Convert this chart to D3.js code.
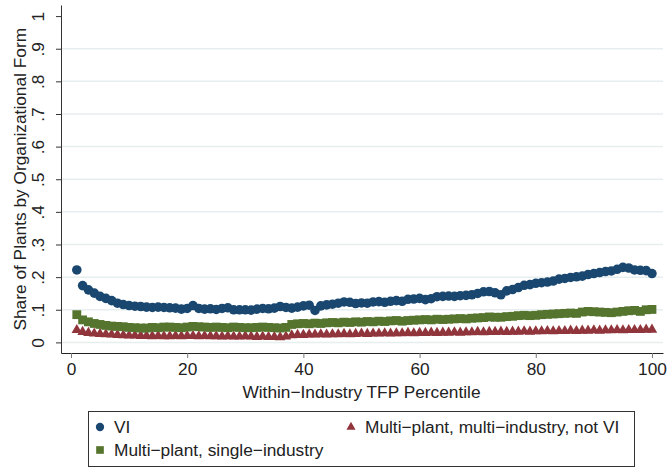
<!DOCTYPE html>
<html><head><meta charset="utf-8">
<script src="https://cdn.jsdelivr.net/npm/d3@7"></script>
<style>body{margin:0;background:#fff}svg{display:block}text{font-family:"Liberation Sans",Arial,sans-serif}</style>
</head><body>
<svg id="c" width="667" height="469"></svg>
<script>
const percentiles = d3.range(1, 101);
const viShare = [
.222,.174,.161,.151,.141,.135,.128,.120,.116,.113,
.111,.110,.108,.107,.108,.107,.106,.105,.102,.104,
.113,.104,.102,.103,.101,.104,.106,.100,.100,.100,
.099,.102,.104,.103,.105,.110,.107,.105,.108,.112,
.114,.098,.112,.115,.117,.120,.124,.123,.119,.121,
.120,.124,.125,.123,.126,.128,.126,.132,.133,.135,
.131,.134,.140,.141,.142,.141,.143,.144,.146,.150,
.155,.156,.152,.146,.158,.162,.168,.175,.177,.181,
.183,.185,.188,.194,.196,.199,.201,.203,.208,.211,
.214,.217,.219,.224,.230,.228,.222,.221,.220,.211];
const singleIndShare = [
.085,.069,.063,.058,.055,.052,.050,.049,.048,.046,
.045,.044,.044,.046,.045,.047,.047,.046,.045,.047,
.049,.048,.047,.046,.047,.046,.045,.047,.046,.045,
.045,.046,.047,.046,.045,.044,.046,.055,.057,.058,
.057,.059,.058,.060,.061,.060,.062,.061,.063,.062,
.064,.063,.065,.064,.066,.067,.065,.067,.068,.069,
.070,.069,.071,.070,.071,.072,.073,.072,.074,.075,
.076,.078,.077,.077,.079,.080,.082,.083,.082,.083,
.085,.086,.087,.088,.089,.090,.089,.093,.095,.094,
.093,.092,.091,.093,.095,.097,.098,.095,.100,.101];
const multiIndShare = [
.038,.032,.029,.027,.026,.025,.024,.023,.022,.021,
.021,.020,.020,.019,.020,.019,.019,.020,.019,.020,
.020,.019,.020,.019,.019,.018,.019,.018,.018,.019,
.018,.017,.018,.017,.017,.016,.018,.022,.023,.023,
.024,.024,.025,.024,.025,.025,.026,.025,.026,.027,
.026,.027,.027,.028,.027,.028,.028,.029,.028,.029,
.029,.030,.029,.030,.030,.031,.030,.031,.031,.032,
.031,.032,.032,.033,.032,.033,.033,.034,.033,.034,
.034,.035,.034,.035,.035,.036,.035,.036,.036,.037,
.036,.037,.037,.038,.037,.038,.038,.038,.039,.039];
const yTicks = [0,.1,.2,.3,.4,.5,.6,.7,.8,.9,1];
const yTickLabels = ["0",".1",".2",".3",".4",".5",".6",".7",".8",".9","1"];
const xTicks = [0,20,40,60,80,100];
const seriesNames = ["VI","Multi\u2212plant, multi\u2212industry, not VI","Multi\u2212plant, single\u2212industry"];

const svg = d3.select("#c");
const x = d3.scaleLinear().domain([-1.72, 101.9]).range([61, 663]);
const y = d3.scaleLinear().domain([-0.0325, 1.034]).range([353, 5]);
const FS = 17.3;

// gridlines
svg.append("g").selectAll("line").data(yTicks.filter(d => d < 1)).join("line")
  .attr("x1", 61).attr("x2", 663)
  .attr("y1", d => y(d)).attr("y2", d => y(d))
  .attr("stroke", "#e6eef0").attr("stroke-width", 1.5);

// series
const series = [
  {vals: viShare, color: "#1a476f", sym: d3.symbolCircle, size: 72},
  {vals: multiIndShare, color: "#90353b", sym: d3.symbolTriangle, size: 48},
  {vals: singleIndShare, color: "#55752f", sym: d3.symbolSquare, size: 78}
];
series.forEach(s => {
  svg.append("g").selectAll("path").data(percentiles).join("path")
    .attr("d", d3.symbol(s.sym, s.size))
    .attr("transform", (p, i) => `translate(${x(p)},${y(s.vals[i])})`)
    .attr("fill", s.color);
});

// y axis
const yAx = svg.append("g").attr("transform", "translate(61,0)")
  .call(d3.axisLeft(y).tickValues(yTicks).tickFormat((d, i) => yTickLabels[i]).tickSize(5).tickSizeOuter(0));
yAx.select(".domain").attr("stroke", "#333");
yAx.selectAll(".tick line").attr("stroke", "#333");
yAx.selectAll(".tick text").attr("x", null).attr("dy", null)
  .attr("transform", "translate(-17,0) rotate(-90)")
  .attr("text-anchor", "middle").attr("font-size", FS).attr("fill", "#222")
  .attr("font-family", "Liberation Sans, Arial, sans-serif");

// x axis
const xAx = svg.append("g").attr("transform", "translate(0,353)")
  .call(d3.axisBottom(x).tickValues(xTicks).tickSize(5).tickSizeOuter(0));
xAx.select(".domain").attr("stroke", "#222");
xAx.selectAll(".tick line").attr("stroke", "#777");
xAx.selectAll(".tick text").attr("y", 22).attr("dy", null)
  .attr("font-size", FS).attr("fill", "#222")
  .attr("font-family", "Liberation Sans, Arial, sans-serif");

// axis titles
svg.append("text").attr("x", x(50)).attr("y", 398).attr("text-anchor", "middle")
  .attr("font-size", FS).attr("fill", "#222").text("Within\u2212Industry TFP Percentile");
svg.append("text").attr("transform", `translate(25.5,${y(0.5)}) rotate(-90)`)
  .attr("text-anchor", "middle").attr("font-size", FS).attr("fill", "#222")
  .text("Share of Plants by Organizational Form");

// legend
const lg = svg.append("g");
lg.append("rect").attr("x", 88.5).attr("y", 411.5).attr("width", 546).attr("height", 55)
  .attr("fill", "#fff").attr("stroke", "#333");
const legendPos = [[100, 427], [351, 427], [100, 450]];
const legendOrder = [0, 1, 2];
legendOrder.forEach((k, i) => {
  const s = series[k];
  const [lx, ly] = legendPos[i];
  lg.append("path").attr("d", d3.symbol(s.sym, s.size * 0.75))
    .attr("transform", `translate(${lx},${ly})`).attr("fill", s.color);
  lg.append("text").attr("x", lx + 14).attr("y", ly + 6)
    .attr("font-size", FS).attr("fill", "#222").text(seriesNames[k]);
});
</script>
</body></html>
